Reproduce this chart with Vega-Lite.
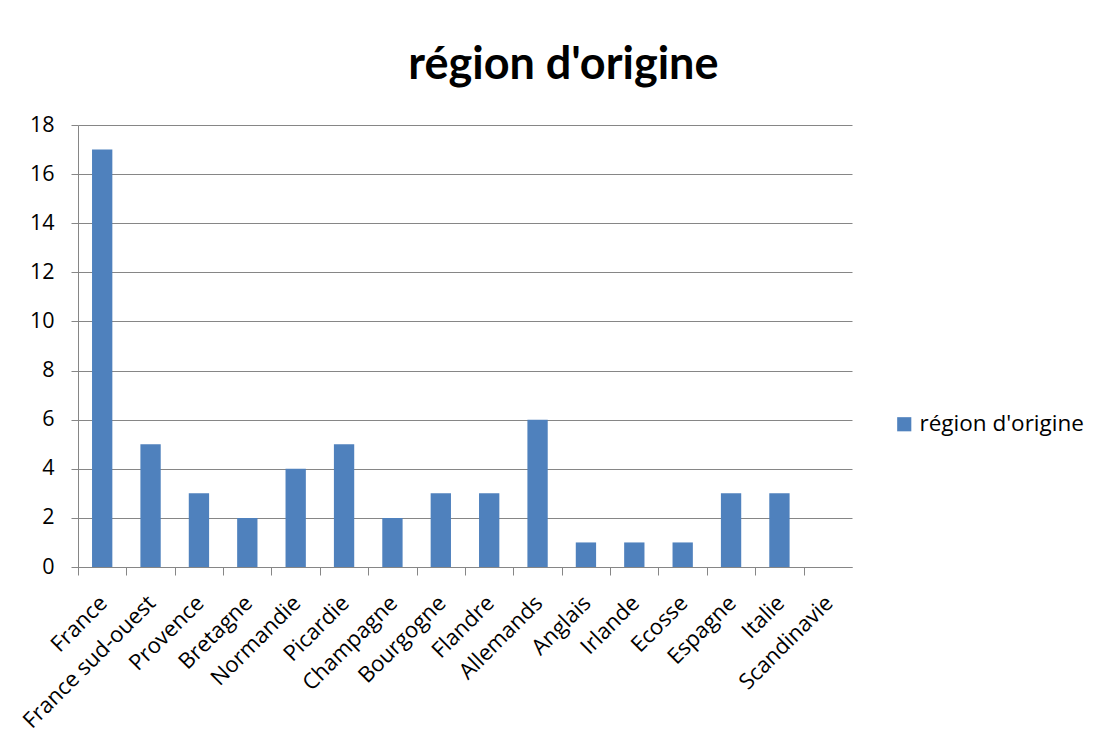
{
  "$schema": "https://vega.github.io/schema/vega-lite/v6.json",
  "autosize": "none",
  "width": 774,
  "height": 442,
  "padding": {"left": 78, "top": 125, "right": 247, "bottom": 182},
  "background": "white",
  "title": {
    "text": "région d'origine",
    "fontSize": 45,
    "font": "Lato",
    "fontWeight": "bold",
    "color": "black",
    "anchor": "middle",
    "frame": "bounds",
    "offset": 26,
    "dx": 12
  },
  "data": {
    "values": [
      {"region": "France", "count": 17, "series": "région d'origine"},
      {"region": "France sud-ouest", "count": 5, "series": "région d'origine"},
      {"region": "Provence", "count": 3, "series": "région d'origine"},
      {"region": "Bretagne", "count": 2, "series": "région d'origine"},
      {"region": "Normandie", "count": 4, "series": "région d'origine"},
      {"region": "Picardie", "count": 5, "series": "région d'origine"},
      {"region": "Champagne", "count": 2, "series": "région d'origine"},
      {"region": "Bourgogne", "count": 3, "series": "région d'origine"},
      {"region": "Flandre", "count": 3, "series": "région d'origine"},
      {"region": "Allemands", "count": 6, "series": "région d'origine"},
      {"region": "Anglais", "count": 1, "series": "région d'origine"},
      {"region": "Irlande", "count": 1, "series": "région d'origine"},
      {"region": "Ecosse", "count": 1, "series": "région d'origine"},
      {"region": "Espagne", "count": 3, "series": "région d'origine"},
      {"region": "Italie", "count": 3, "series": "région d'origine"},
      {"region": "Scandinavie", "count": 0, "series": "région d'origine"}
    ]
  },
  "mark": {"type": "bar"},
  "encoding": {
    "x": {
      "field": "region",
      "type": "nominal",
      "sort": null,
      "scale": {"paddingInner": 0.58, "paddingOuter": 0.29},
      "axis": {
        "title": null,
        "labelAngle": -45,
        "labelFont": "Open Sans",
        "labelFontSize": 22,
        "labelColor": "black",
        "labelPadding": 17,
        "labelLimit": 400,
        "tickOffset": -24.2,
        "labelOffset": 18,
        "domainColor": "#868686",
        "tickColor": "#868686",
        "tickSize": 8,
        "grid": false
      }
    },
    "y": {
      "field": "count",
      "type": "quantitative",
      "scale": {"domain": [0, 18], "nice": false},
      "axis": {
        "title": null,
        "values": [0, 2, 4, 6, 8, 10, 12, 14, 16, 18],
        "labelFont": "Open Sans",
        "labelFontSize": 21.5,
        "labelColor": "black",
        "labelPadding": 17,
        "domainColor": "#868686",
        "tickColor": "#868686",
        "tickSize": 7,
        "gridColor": "#868686",
        "gridWidth": 1
      }
    },
    "color": {
      "field": "series",
      "type": "nominal",
      "scale": {"range": ["#4F81BD"]},
      "legend": {
        "title": null,
        "orient": "none",
        "legendX": 815,
        "legendY": 288,
        "symbolType": "square",
        "symbolSize": 200,
        "labelFont": "Open Sans",
        "labelFontSize": 22.5,
        "labelLimit": 400,
        "labelColor": "black"
      }
    }
  },
  "config": {"view": {"stroke": null}}
}
